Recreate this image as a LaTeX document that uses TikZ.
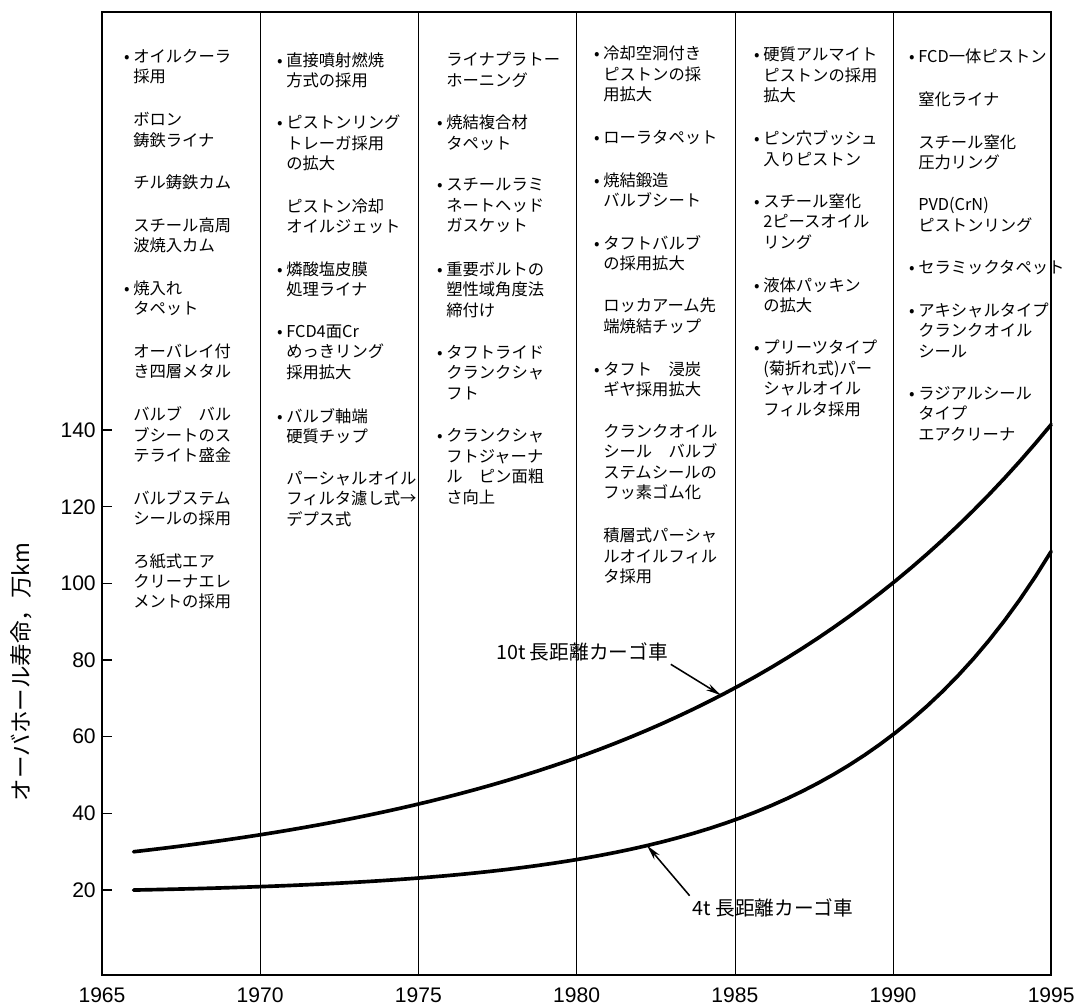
\documentclass[tikz,border=0pt]{standalone}
\usepackage{fontspec}
\setmainfont{Noto Sans CJK JP}
\newfontfamily\numfont{Liberation Sans}
\usetikzlibrary{arrows.meta}
\newcommand\itembul{\llap{\textbullet\hspace{2.5pt}}}

\begin{document}
\begin{tikzpicture}[x=0.025cm, y=-0.025cm,
    item/.style={anchor=north west, inner sep=0pt, align=left, font=\fontsize{11.6pt}{14.5pt}\selectfont},
    yr/.style={anchor=north, inner sep=0pt, font=\numfont\fontsize{15pt}{15pt}\selectfont},
    val/.style={anchor=east, inner sep=0pt, font=\numfont\fontsize{15pt}{15pt}\selectfont},
    label/.style={inner sep=2pt, font=\fontsize{14pt}{16pt}\selectfont},
    grid/.style={line width=0.8pt},
    curve/.style={line width=2.6pt, line cap=round},
    callout/.style={line width=1.1pt, -{Stealth[length=11pt, width=5pt]}}]
  \useasboundingbox (0,0) rectangle (1084,1006);

  % frame, year lines and scale
  \draw[line width=1.2pt] (102,12) rectangle (1051.2,975);
  \draw[line width=2pt] (102,975) -- (1051.2,975);
  \foreach \i/\yr in {0/1965,1/1970,2/1975,3/1980,4/1985,5/1990,6/1995} {
    \draw[grid] ({102.3+158.2*\i},12) -- ({102.3+158.2*\i},975);
    \node[yr] (y\yr) at ({102+158.2*\i},987) {\yr};
  }
  \foreach \v in {20,40,...,140} {
    \draw[line width=1pt] (102,{966.7-3.833*\v}) -- (112,{966.7-3.833*\v});
    \node[val] (v\v) at (96,{966.7-3.833*\v}) {\v};
  }
  \node[rotate=90, font=\fontsize{16pt}{18pt}\selectfont] (ylab) at (21,672) {オーバホール寿命，万km};

  % 1965-1970
  \node[item] (a1) at (133,49) {\itembul オイルクーラ\\採用};
  \node[item] (a2) at (133,112) {ボロン\\鋳鉄ライナ};
  \node[item] (a3) at (133,175) {チル鋳鉄カム};
  \node[item] (a4) at (133,217.5) {スチール高周\\波焼入カム};
  \node[item] (a5) at (133,280.5) {\itembul 焼入れ\\タペット};
  \node[item] (a6) at (133,343.5) {オーバレイ付\\き四層メタル};
  \node[item] (a7) at (133,406.5) {バルブ　バル\\ブシートのス\\テライト盛金};
  \node[item] (a8) at (133,490) {バルブステム\\シールの採用};
  \node[item] (a9) at (133,553) {ろ紙式エア\\クリーナエレ\\メントの採用};

  % 1970-1975
  \node[item] (b1) at (286,52) {\itembul 直接噴射燃焼\\方式の採用};
  \node[item] (b2) at (286,115) {\itembul ピストンリング\\トレーガ採用\\の拡大};
  \node[item] (b3) at (286,198.5) {ピストン冷却\\オイルジェット};
  \node[item] (b4) at (286,261.5) {\itembul 燐酸塩皮膜\\処理ライナ};
  \node[item] (b5) at (286,324.5) {\itembul FCD4面Cr\\めっきリング\\採用拡大};
  \node[item] (b6) at (286,408) {\itembul バルブ軸端\\硬質チップ};
  \node[item] (b7) at (286,471) {パーシャルオイル\\フィルタ濾し式→\\デプス式};

  % 1975-1980
  \node[item] (c1) at (446,52) {ライナプラトー\\ホーニング};
  \node[item] (c2) at (446,115) {\itembul 焼結複合材\\タペット};
  \node[item] (c3) at (446,178) {\itembul スチールラミ\\ネートヘッド\\ガスケット};
  \node[item] (c4) at (446,261.5) {\itembul 重要ボルトの\\塑性域角度法\\締付け};
  \node[item] (c5) at (446,345) {\itembul タフトライド\\クランクシャ\\フト};
  \node[item] (c6) at (446,428.5) {\itembul クランクシャ\\フトジャーナ\\ル　ピン面粗\\さ向上};

  % 1980-1985
  \node[item] (d1) at (603,46) {\itembul 冷却空洞付き\\ピストンの採\\用拡大};
  \node[item] (d2) at (603,129.5) {\itembul ローラタペット};
  \node[item] (d3) at (603,172) {\itembul 焼結鍛造\\バルブシート};
  \node[item] (d4) at (603,235) {\itembul タフトバルブ\\の採用拡大};
  \node[item] (d5) at (603,298) {ロッカアーム先\\端焼結チップ};
  \node[item] (d6) at (603,361) {\itembul タフト　浸炭\\ギヤ採用拡大};
  \node[item] (d7) at (603,424) {クランクオイル\\シール　バルブ\\ステムシールの\\フッ素ゴム化};
  \node[item] (d8) at (603,528) {積層式パーシャ\\ルオイルフィル\\タ採用};

  % 1985-1990
  \node[item] (e1) at (763,47) {\itembul 硬質アルマイト\\ピストンの採用\\拡大};
  \node[item] (e2) at (763,130.5) {\itembul ピン穴ブッシュ\\入りピストン};
  \node[item] (e3) at (763,193.5) {\itembul スチール窒化\\2ピースオイル\\リング};
  \node[item] (e4) at (763,277) {\itembul 液体パッキン\\の拡大};
  \node[item] (e5) at (763,340) {\itembul プリーツタイプ\\(菊折れ式)パー\\シャルオイル\\フィルタ採用};

  % 1990-1995
  \node[item] (f1) at (918,49) {\itembul FCD一体ピストン};
  \node[item] (f2) at (918,91.5) {窒化ライナ};
  \node[item] (f3) at (918,134) {スチール窒化\\圧力リング};
  \node[item] (f4) at (918,197) {PVD(CrN)\\ピストンリング};
  \node[item] (f5) at (918,260) {\itembul セラミックタペット};
  \node[item] (f6) at (918,302.5) {\itembul アキシャルタイプ\\クランクオイル\\シール};
  \node[item] (f7) at (918,386) {\itembul ラジアルシール\\タイプ\\エアクリーナ};

  % curves
  \draw[curve] plot[domain=0:29, samples=60] ({133.6+31.64*\x}, {895.4-43.67*exp(0.082*\x)});
  \draw[curve] plot[domain=0:29, samples=60] ({133.6+31.64*\x}, {894.1-4.055*exp(0.153*\x)});

  \node[label] (lab10) at (582,652) {10t 長距離カーゴ車};
  \node[label] (lab4) at (773,908) {4t 長距離カーゴ車};
  \coordinate (p10) at (721,695.2);
  \coordinate (p4) at (647,845.5);
  \draw[callout] (lab10.south east) -- (p10);
  \draw[callout] (lab4.north west) -- (p4);
\end{tikzpicture}
\end{document}
